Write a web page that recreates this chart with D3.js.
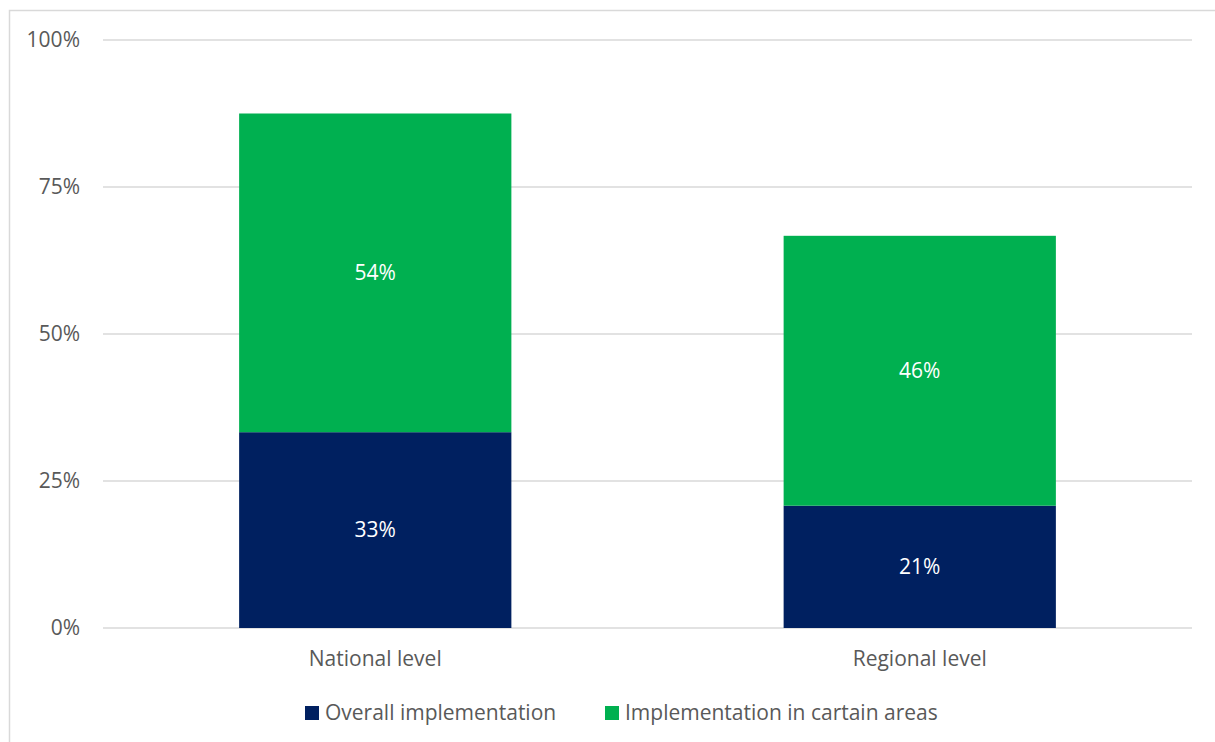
<!DOCTYPE html>
<html>
<head>
<meta charset="utf-8">
<script src="https://cdn.jsdelivr.net/npm/d3@7"></script>
<style>
  html, body { margin: 0; padding: 0; background: #fff; }
  svg text { font-family: "Open Sans", Lato, sans-serif; }
</style>
</head>
<body>
<svg id="chart" width="1215" height="742"></svg>
<script>
const categories = ["National level", "Regional level"];
const seriesNames = ["Overall implementation", "Implementation in cartain areas"];
const overall = [33.3, 20.8];
const certainAreas = [54.2, 45.9];
const overallLabels = ["33%", "21%"];
const areasLabels = ["54%", "46%"];
const yTicks = [0, 25, 50, 75, 100];
const colors = ["#002060", "#00B050"];

const svg = d3.select("#chart");
const margin = { left: 103, right: 1192, top: 40, bottom: 628 };
const fontSize = "21px";

// chart frame (only top/left edges visible in the crop)
svg.append("rect")
    .attr("x", 9.5).attr("y", 10.5)
    .attr("width", 1300).attr("height", 800)
    .attr("fill", "none")
    .attr("stroke", "#d9d9d9")
    .attr("stroke-width", 1.5);

const x = d3.scaleBand()
    .domain(categories)
    .range([margin.left, margin.right])
    .paddingInner(0.5)
    .paddingOuter(0.25);

const y = d3.scaleLinear()
    .domain([0, 100])
    .range([margin.bottom, margin.top]);

// gridlines
svg.append("g")
    .selectAll("line")
    .data(yTicks)
    .enter()
    .append("line")
    .attr("x1", margin.left)
    .attr("x2", margin.right)
    .attr("y1", d => y(d))
    .attr("y2", d => y(d))
    .attr("stroke", "#d9d9d9")
    .attr("stroke-width", 1.5);

// y tick labels
svg.append("g")
    .selectAll("text")
    .data(yTicks)
    .enter()
    .append("text")
    .attr("x", 80)
    .attr("y", d => y(d))
    .attr("dy", "0.35em")
    .attr("text-anchor", "end")
    .attr("font-size", fontSize)
    .attr("fill", "#595959")
    .text(d => d + "%");

// stacked bars
const rows = categories.map((c, i) => ({ cat: c, overall: overall[i], areas: certainAreas[i], i }));
const stack = d3.stack().keys(["overall", "areas"]);
const layers = stack(rows);
const labelSets = [overallLabels, areasLabels];

layers.forEach((layer, li) => {
    const g = svg.append("g");
    g.selectAll("rect")
        .data(layer)
        .enter()
        .append("rect")
        .attr("x", d => x(d.data.cat))
        .attr("width", x.bandwidth())
        .attr("y", d => y(d[1]))
        .attr("height", d => y(d[0]) - y(d[1]))
        .attr("fill", colors[li]);

    g.selectAll("text")
        .data(layer)
        .enter()
        .append("text")
        .attr("x", d => x(d.data.cat) + x.bandwidth() / 2)
        .attr("y", d => y((d[0] + d[1]) / 2))
        .attr("dy", "0.35em")
        .attr("text-anchor", "middle")
        .attr("font-size", fontSize)
        .attr("fill", "#fff")
        .text(d => labelSets[li][d.data.i]);
});

// category labels
svg.append("g")
    .selectAll("text")
    .data(categories)
    .enter()
    .append("text")
    .attr("x", d => x(d) + x.bandwidth() / 2)
    .attr("y", 659)
    .attr("dy", "0.35em")
    .attr("text-anchor", "middle")
    .attr("font-size", fontSize)
    .attr("fill", "#595959")
    .text(d => d);

// legend
const legendX = [305, 605];
const legend = svg.append("g");
seriesNames.forEach((name, i) => {
    legend.append("rect")
        .attr("x", legendX[i])
        .attr("y", 706)
        .attr("width", 14)
        .attr("height", 14)
        .attr("fill", colors[i]);
    legend.append("text")
        .attr("x", legendX[i] + 20)
        .attr("y", 713)
        .attr("dy", "0.35em")
        .attr("font-size", fontSize)
        .attr("fill", "#595959")
        .text(name);
});
</script>
</body>
</html>
